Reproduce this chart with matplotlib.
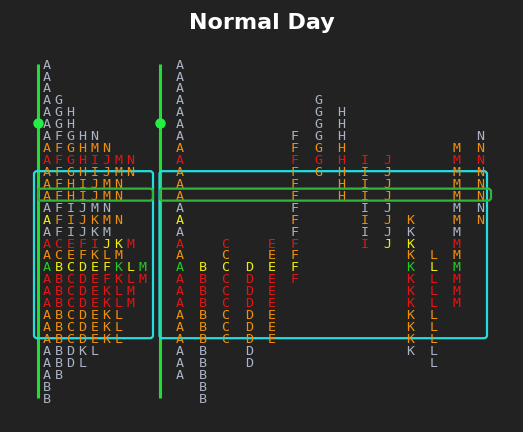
import matplotlib

matplotlib.use("Agg")
import matplotlib.pyplot as plt
from matplotlib.patches import FancyBboxPatch

# TPO periods and the price rows they cover (row 0 = highest price)
periods = list("ABCDEFGHIJKLMN")
top_rows = [0, 17, 15, 17, 15, 6, 3, 4, 8, 8, 13, 16, 7, 6]
bottom_rows = [26, 28, 23, 25, 23, 18, 9, 11, 15, 15, 24, 25, 20, 13]

# colour class of each price row
row_class = (["grey"] * 7
             + ["orange", "red", "orange", "orange", "orange", "grey", "orange",
                "grey", "red", "orange", "yellow", "red", "red", "red",
                "orange", "orange", "orange"]
             + ["grey"] * 5)
# single cells that differ from their row
cell_override = {
    (13, "A"): "yellow",
    (15, "J"): "yellow",
    (15, "K"): "yellow",
    (17, "A"): "green",
    (17, "K"): "green",
    (17, "M"): "green",
}
value_area = (9, 23)
poc_row = 11
open_row = 5

palette = {
    "grey": "#aab4c6",
    "orange": "#f0900c",
    "red": "#e51414",
    "yellow": "#eeee12",
    "green": "#22cc22",
}
BG = "#222222"

# layout (pixels)
Y0, DY = 63.8, 11.93
LEFT_X0, LEFT_DX = 46.5, 12.0
RIGHT_X0, RIGHT_DX = 179.3, 23.13
LINE_LEFT, LINE_RIGHT = 38, 160


def row_y(r):
    return Y0 + r * DY


n_rows = len(row_class)

fig = plt.figure(figsize=(5.23, 4.32), dpi=100, facecolor=BG)
ax = fig.add_axes([0, 0, 1, 1])
ax.set_facecolor(BG)
ax.set_xlim(0, 523)
ax.set_ylim(432, 0)
ax.axis("off")

txt = dict(family="DejaVu Sans Mono", fontsize=9.6, ha="center", va="baseline", zorder=4)

for r in range(n_rows):
    present = [p for i, p in enumerate(periods) if top_rows[i] <= r <= bottom_rows[i]]
    for k, p in enumerate(present):
        c = palette[cell_override.get((r, p), row_class[r])]
        ax.text(LEFT_X0 + k * LEFT_DX, row_y(r) + 4.8, p, color=c, **txt)
        ax.text(RIGHT_X0 + periods.index(p) * RIGHT_DX, row_y(r) + 4.8, p, color=c, **txt)

# value area boxes
va_top = row_y(value_area[0])
va_bot = row_y(value_area[1])
for x0, x1 in [(34, 153), (159.5, 487)]:
    ax.add_patch(FancyBboxPatch((x0, va_top), x1 - x0, va_bot - va_top,
                                boxstyle="round,pad=0,rounding_size=3",
                                fill=False, ec="#22dede", lw=1.6, zorder=3))

# point of control boxes
for x0, x1 in [(38, 153), (160, 491)]:
    ax.add_patch(FancyBboxPatch((x0, row_y(poc_row) - 6.4), x1 - x0, 12,
                                boxstyle="round,pad=0,rounding_size=3",
                                fill=False, ec="#33b53a", lw=1.6, zorder=5))

# range lines with open marker
for x in (LINE_LEFT, LINE_RIGHT):
    ax.plot([x, x], [row_y(0), row_y(n_rows - 1)], color="#22dd33", lw=2.2, zorder=2,
            solid_capstyle="butt")
    ax.plot([x], [row_y(open_row) - 0.6], marker="o", ms=7.5, color="#22ee44",
            mec="none", zorder=6)

fig.text(0.5, 1 - 23 / 432, "Normal Day", ha="center", va="center",
         fontsize=16, fontweight="bold", color="white")

fig.savefig("out.png", dpi=100, facecolor=BG)
